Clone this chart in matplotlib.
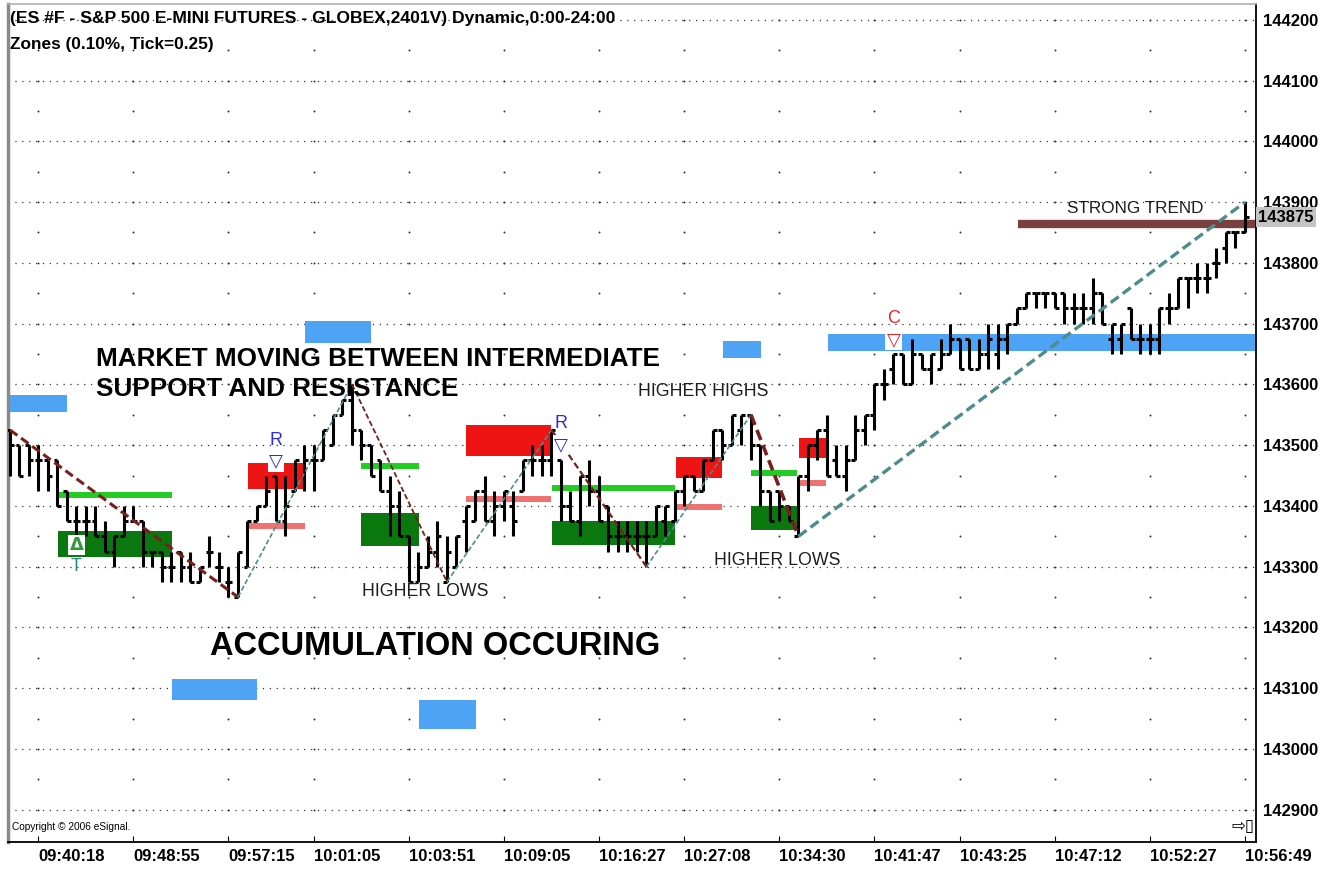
import matplotlib
matplotlib.use("Agg")
import matplotlib.pyplot as plt
from matplotlib.patches import Rectangle
import numpy as np

plt.rcParams["font.family"] = ["Liberation Sans", "DejaVu Sans"]

# OHLC bars (price x 100), one per 2401-volume bar
opens = [143525, 143500, 143500, 143475, 143475, 143475, 143425, 143375, 143375, 143375,
         143350, 143325, 143350, 143375, 143375, 143325, 143325, 143300, 143325, 143300,
         143275, 143325, 143300, 143275, 143250, 143300, 143375, 143400, 143450, 143375,
         143425, 143450, 143475, 143475, 143500, 143550, 143575, 143525, 143500, 143475,
         143425, 143400, 143350, 143275, 143300, 143325, 143275, 143300, 143375, 143375,
         143425, 143375, 143400, 143400, 143425, 143475, 143475, 143475, 143475, 143400,
         143375, 143450, 143425, 143400, 143350, 143350, 143350, 143350, 143350, 143375,
         143375, 143425, 143450, 143425, 143475, 143525, 143500, 143525, 143550, 143500,
         143425, 143425, 143400, 143350, 143450, 143500, 143525, 143475, 143450, 143475,
         143525, 143550, 143600, 143625, 143650, 143600, 143650, 143625, 143625, 143650,
         143675, 143675, 143625, 143650, 143650, 143675, 143700, 143725, 143750, 143750,
         143750, 143750, 143725, 143725, 143725, 143750, 143675, 143675, 143725, 143675,
         143675, 143675, 143725, 143725, 143775, 143775, 143775, 143800, 143825, 143850,
         143850]
highs = [143525, 143500, 143500, 143500, 143475, 143475, 143425, 143400, 143400, 143400,
         143375, 143350, 143400, 143400, 143375, 143325, 143325, 143325, 143325, 143325,
         143300, 143350, 143325, 143300, 143325, 143375, 143400, 143450, 143450, 143450,
         143475, 143500, 143500, 143525, 143550, 143575, 143600, 143525, 143500, 143475,
         143450, 143425, 143350, 143325, 143350, 143375, 143350, 143350, 143400, 143425,
         143450, 143425, 143425, 143425, 143475, 143500, 143500, 143525, 143475, 143425,
         143450, 143475, 143450, 143400, 143375, 143375, 143375, 143375, 143400, 143400,
         143425, 143450, 143450, 143475, 143525, 143525, 143550, 143550, 143550, 143500,
         143425, 143425, 143400, 143450, 143500, 143525, 143550, 143500, 143500, 143550,
         143550, 143600, 143625, 143650, 143650, 143675, 143650, 143650, 143675, 143700,
         143675, 143675, 143675, 143700, 143700, 143700, 143725, 143750, 143750, 143750,
         143750, 143750, 143750, 143750, 143775, 143750, 143700, 143700, 143725, 143700,
         143700, 143725, 143750, 143775, 143775, 143800, 143800, 143825, 143850, 143850,
         143900]
lows = [143450, 143450, 143450, 143425, 143425, 143400, 143375, 143350, 143350, 143350,
        143325, 143300, 143350, 143375, 143300, 143300, 143275, 143275, 143275, 143275,
        143275, 143300, 143275, 143250, 143250, 143300, 143375, 143400, 143375, 143350,
        143425, 143425, 143425, 143475, 143500, 143550, 143500, 143475, 143450, 143425,
        143350, 143350, 143275, 143275, 143300, 143300, 143275, 143300, 143325, 143375,
        143375, 143350, 143375, 143350, 143425, 143450, 143450, 143450, 143375, 143375,
        143350, 143400, 143375, 143325, 143325, 143325, 143325, 143300, 143350, 143350,
        143375, 143400, 143425, 143425, 143475, 143475, 143500, 143500, 143475, 143400,
        143375, 143375, 143375, 143350, 143425, 143475, 143450, 143450, 143425, 143475,
        143500, 143525, 143575, 143600, 143600, 143600, 143625, 143600, 143625, 143650,
        143625, 143625, 143625, 143625, 143625, 143650, 143700, 143725, 143725, 143725,
        143725, 143700, 143700, 143700, 143700, 143700, 143650, 143650, 143675, 143650,
        143650, 143650, 143700, 143725, 143725, 143750, 143750, 143775, 143800, 143825,
        143850]
closes = [143500, 143450, 143475, 143475, 143450, 143400, 143375, 143375, 143375, 143350,
          143325, 143350, 143375, 143375, 143325, 143325, 143300, 143300, 143300, 143275,
          143300, 143325, 143300, 143275, 143325, 143375, 143400, 143425, 143375, 143400,
          143475, 143475, 143475, 143525, 143550, 143575, 143525, 143500, 143450, 143425,
          143400, 143350, 143275, 143300, 143325, 143350, 143325, 143350, 143400, 143425,
          143375, 143400, 143425, 143375, 143475, 143475, 143475, 143525, 143400, 143375,
          143450, 143425, 143375, 143350, 143350, 143350, 143350, 143350, 143400, 143400,
          143425, 143450, 143425, 143475, 143525, 143500, 143550, 143550, 143500, 143425,
          143375, 143400, 143375, 143450, 143500, 143525, 143450, 143450, 143475, 143525,
          143550, 143600, 143600, 143650, 143600, 143650, 143625, 143650, 143650, 143675,
          143625, 143625, 143650, 143675, 143675, 143700, 143725, 143750, 143750, 143750,
          143725, 143725, 143725, 143725, 143750, 143700, 143700, 143700, 143675, 143675,
          143675, 143725, 143725, 143775, 143775, 143775, 143775, 143800, 143850, 143850,
          143875]

time_ticks = [3, 13, 23, 32, 42, 52, 62, 71, 81, 91, 100, 110, 120, 130]
time_labels = ["09:40:18", "09:48:55", "09:57:15", "10:01:05", "10:03:51", "10:09:05",
               "10:16:27", "10:27:08", "10:34:30", "10:41:47", "10:43:25", "10:47:12",
               "10:52:27", "10:56:49"]
price_ticks = list(range(142900, 144201, 100))
last_price = 143875

# intermediate zones (blue)
blue_start = [0.0, 31.05, 17.05, 43.05, 75.05, 86.1]
blue_end = [6.0, 38.0, 26.0, 49.05, 79.05, 131.3]
blue_lo = [143555, 143668, 143081, 143033, 143644, 143655]
blue_hi = [143583, 143705, 143116, 143081, 143672, 143683]

# resistance zones (red) with pink base line
red_start = [25.05, 48.0, 70.1, 83.05]
red_end = [31.05, 56.95, 74.95, 85.9]
red_lo = [143428, 143483, 143446, 143479]
red_hi = [143471, 143534, 143481, 143512]
pink_level = [143367, 143412, 143399, 143438]

# support zones (dark green) with lime top line
green_start = [5.05, 36.95, 57.05, 78.0]
green_end = [17.05, 43.05, 70.0, 82.85]
green_lo = [143316, 143334, 143336, 143361]
green_hi = [143359, 143389, 143376, 143400]
lime_level = [143418, 143466, 143430, 143455]

trend_start = 106.1
trend_level = 143864

# swing pivots joined by dashed lines
pivot_bars = [0, 24, 36, 46, 57, 67, 78, 83, 130]
pivot_prices = [143525, 143250, 143600, 143275, 143525, 143300, 143550, 143350, 143900]

# signal markers
signal_bars = [7, 28, 58, 93]
signal_letters = ["T", "R", "R", "C"]
signal_arrows = ["Δ", "▽", "▽", "▽"]
letter_prices = [143301, 143507, 143535, 143708]
arrow_prices = [143336, 143473, 143500, 143673]

fig = plt.figure(figsize=(13.2, 8.8), dpi=100)
ax = fig.add_axes([8 / 1320, 38 / 880, 1248 / 1320, 838 / 880])
ax.set_xlim(-0.21, 131.16)
ax.set_ylim(142847, 144226)

# grid: dotted price lines + sparse dots on the time columns
ax.hlines(price_ticks, -0.21, 131.16, colors="#333333", lw=0.9,
          linestyles=(0, (1, 4.5)), zorder=0)
half_levels = np.arange(142900, 144201, 50)
gx, gy = np.meshgrid(time_ticks, half_levels)
ax.scatter(gx.ravel(), gy.ravel(), s=2, color="#333333", lw=0, zorder=0)

# zones
for s, e, lo, hi in zip(blue_start, blue_end, blue_lo, blue_hi):
    ax.add_patch(Rectangle((s, lo), e - s, hi - lo, color="#4FA3F5", lw=0, zorder=1))
for s, e, lo, hi in zip(red_start, red_end, red_lo, red_hi):
    ax.add_patch(Rectangle((s, lo), e - s, hi - lo, color="#EE1414", lw=0, zorder=1))
for s, e, lo, hi in zip(green_start, green_end, green_lo, green_hi):
    ax.add_patch(Rectangle((s, lo), e - s, hi - lo, color="#0A780E", lw=0, zorder=1))
ax.hlines(pink_level, red_start, red_end, colors="#EE7272", lw=4.3, zorder=2)
ax.hlines(lime_level, green_start, green_end, colors="#22CC22", lw=4.3, zorder=2)
ax.hlines(trend_level, trend_start, 131.3, colors="#7A4040", lw=6, zorder=2)

# OHLC bars
idx = np.arange(len(opens))
ax.vlines(idx, lows, highs, colors="black", lw=2.2, zorder=3)
ax.hlines(opens, idx - 0.42, idx, colors="black", lw=2.2, zorder=3)
ax.hlines(closes, idx, idx + 0.42, colors="black", lw=2.2, zorder=3)

# swing lines
widths = [2.2, 1.2, 1.3, 1.2, 1.6, 1.2, 2.6, 2.4]
for k in range(len(pivot_bars) - 1):
    down = pivot_prices[k + 1] < pivot_prices[k]
    ax.plot(pivot_bars[k:k + 2], pivot_prices[k:k + 2],
            color="#7A1E1E" if down else "#4E8C8C", lw=widths[k],
            linestyle=(0, (3, 1.5)), zorder=4)

# signals
letter_colors = ["#2A8A7A", "#2B2BE0", "#2B2BE0", "#E82222"]
arrow_colors = ["#2E9A3E", "#2B2BE0", "#2B2BE0", "#E82222"]
for b, lt, ar, lp, ap, lc, ac in zip(signal_bars, signal_letters, signal_arrows,
                                     letter_prices, arrow_prices, letter_colors, arrow_colors):
    ax.text(b, lp, lt, color=lc, fontsize=13, ha="center", va="center", zorder=6)
    ax.text(b, ap, ar, color=ac, fontsize=13, fontweight="bold", ha="center", va="center",
            family=["DejaVu Sans"], zorder=6,
            bbox=dict(facecolor="white", edgecolor="none", pad=0.8))

# annotations
head_style = dict(fontsize=18.8, fontweight="bold", ha="left", va="center", zorder=6)
ax.text(9.05, 143642, "MARKET MOVING BETWEEN INTERMEDIATE", **head_style)
ax.text(9.05, 143593, "SUPPORT AND RESISTANCE", **head_style)
ax.text(21.05, 143168, "ACCUMULATION OCCURING", fontsize=23.5, fontweight="bold",
        ha="left", va="center", zorder=6)
note_style = dict(fontsize=12.8, color="#1E1E1E", ha="left", va="center", zorder=6)
ax.text(37.05, 143260, "HIGHER LOWS", **note_style)
ax.text(66.1, 143588, "HIGHER HIGHS", **note_style)
ax.text(74.1, 143310, "HIGHER LOWS", **note_style)
ax.text(111.3, 143889, "STRONG TREND", fontsize=12.3, color="#1E1E1E",
        ha="left", va="center", zorder=6)

fig.text(10 / 1320, 1 - 11 / 880,
         "(ES #F - S&P 500 E-MINI FUTURES - GLOBEX,2401V) Dynamic,0:00-24:00",
         fontsize=12.6, fontweight="bold", ha="left", va="top")
fig.text(10 / 1320, 1 - 37 / 880, "Zones (0.10%, Tick=0.25)",
         fontsize=12.4, fontweight="bold", ha="left", va="top")
ax.text(0.003, 0.012, "Copyright © 2006 eSignal.", transform=ax.transAxes,
        fontsize=7.3, ha="left", va="bottom")
ax.text(0.9985, 0.008, "⇨▯", transform=ax.transAxes, fontsize=12,
        family=["DejaVu Sans"], ha="right", va="bottom")

# axes
ax.yaxis.tick_right()
ax.set_yticks(price_ticks)
ax.set_yticklabels([str(p) for p in price_ticks])
ax.tick_params(axis="y", length=0, pad=5, labelsize=12)
ax.set_xticks(time_ticks)
ax.set_xticklabels(time_labels, ha="left")
ax.tick_params(axis="x", direction="in", length=4, pad=5, labelsize=12)
for lab in ax.get_yticklabels() + ax.get_xticklabels():
    lab.set_fontweight("bold")
ax.text(1.002, last_price, str(last_price), transform=ax.get_yaxis_transform(),
        fontsize=12, fontweight="bold", ha="left", va="center", zorder=7, clip_on=False,
        bbox=dict(facecolor="#C4C4C4", edgecolor="none", pad=1.8))

for side in ["right", "bottom"]:
    ax.spines[side].set_color("black")
    ax.spines[side].set_linewidth(1.3)
ax.spines["left"].set_color("#8A8A8A")
ax.spines["left"].set_linewidth(2.5)
ax.spines["top"].set_color("#B0B0B0")
ax.spines["top"].set_linewidth(1.2)

fig.savefig("out.png", dpi=100)
